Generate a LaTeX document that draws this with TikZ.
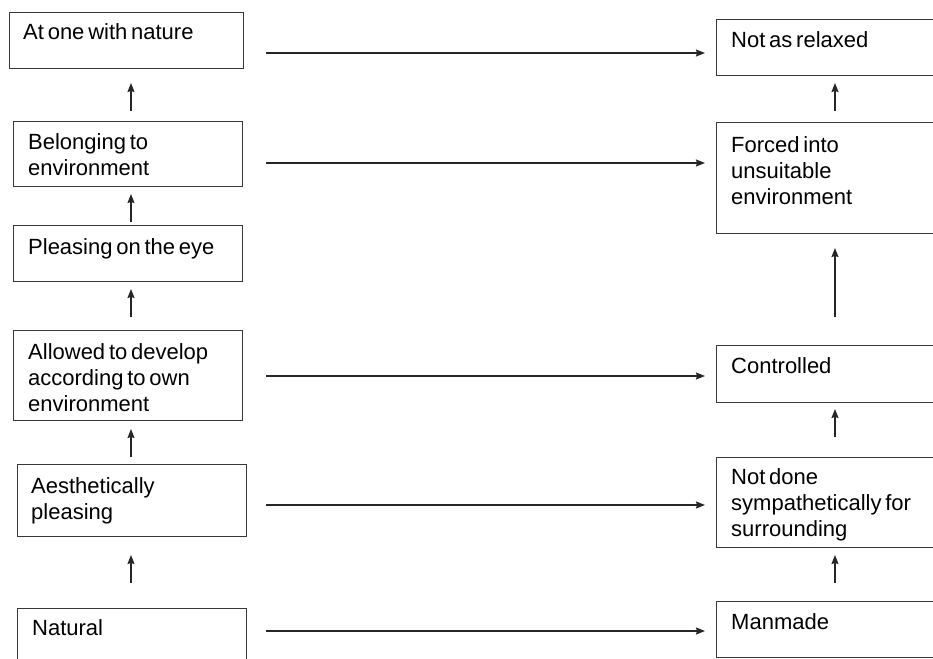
\documentclass[tikz,border=0pt]{standalone}
\usepackage{fontspec}
\setmainfont[WordSpace=0.62]{Liberation Sans}
\usetikzlibrary{arrows.meta}
\begin{document}
\begin{tikzpicture}[x=1pt,y=-1pt,
  box/.style={draw=black!78,line width=1.2pt,rectangle,inner sep=0pt,anchor=north west},
  lbl/.style={anchor=north west,inner sep=0pt,align=left,
    font=\fontsize{22pt}{26pt}\selectfont,text=black},
  arr/.style={draw=black!85,line width=1.3pt,-{Stealth[length=9pt,width=7pt,inset=1pt]}}]
\useasboundingbox (0,0) rectangle (933,658);
\clip (0,0) rectangle (933,658);
% left column boxes
\node[box,minimum width=234pt,minimum height=56pt] (L1) at (9,12) {};
\node[box,minimum width=229pt,minimum height=65pt] (L2) at (13,121) {};
\node[box,minimum width=229pt,minimum height=56pt] (L3) at (13,225) {};
\node[box,minimum width=229pt,minimum height=90pt] (L4) at (13,330) {};
\node[box,minimum width=229pt,minimum height=72pt] (L5) at (17,464) {};
\node[box,minimum width=229pt,minimum height=80pt] (L6) at (17,608) {};
% right column boxes (running past the right edge)
\node[box,minimum width=260pt,minimum height=56pt] (R1) at (716,19) {};
\node[box,minimum width=260pt,minimum height=111pt] (R2) at (716,122) {};
\node[box,minimum width=260pt,minimum height=57pt] (R3) at (716,345) {};
\node[box,minimum width=260pt,minimum height=90pt] (R4) at (716,457) {};
\node[box,minimum width=260pt,minimum height=56pt] (R5) at (716,601) {};
% labels
\node[lbl] (tL1) at ([shift={(14,11)}]L1.north west) {At one with nature};
\node[lbl] (tL2) at ([shift={(15,12)}]L2.north west) {Belonging to\\environment};
\node[lbl] (tL3) at ([shift={(15,13)}]L3.north west) {Pleasing on the eye};
\node[lbl] (tL4) at ([shift={(15,13)}]L4.north west) {Allowed to develop\\according to own\\environment};
\node[lbl] (tL5) at ([shift={(14,13)}]L5.north west) {Aesthetically\\pleasing};
\node[lbl] (tL6) at ([shift={(15,11)}]L6.north west) {Natural};
\node[lbl] (tR1) at ([shift={(15,12)}]R1.north west) {Not as relaxed};
\node[lbl] (tR2) at ([shift={(15,14)}]R2.north west) {Forced into\\unsuitable\\environment};
\node[lbl] (tR3) at ([shift={(15,12)}]R3.north west) {Controlled};
\node[lbl] (tR4) at ([shift={(15,11)}]R4.north west) {Not done\\sympathetically for\\surrounding};
\node[lbl] (tR5) at ([shift={(15,12)}]R5.north west) {Manmade};
% horizontal arrow ends
\foreach \n/\y in {1/53,2/163,3/376,4/505,5/631}{
  \coordinate (h\n a) at (266,\y);
  \coordinate (h\n b) at (705,\y);
}
% vertical arrow ends, left column
\coordinate (va1) at (131,111); \coordinate (vb1) at (131,83);
\coordinate (va2) at (131,222); \coordinate (vb2) at (131,194);
\coordinate (va3) at (131,317); \coordinate (vb3) at (131,289);
\coordinate (va4) at (131,457); \coordinate (vb4) at (131,429);
\coordinate (va5) at (131,583); \coordinate (vb5) at (131,555);
% vertical arrow ends, right column
\coordinate (wa1) at (835,111); \coordinate (wb1) at (835,83);
\coordinate (wa2) at (835,317); \coordinate (wb2) at (835,248);
\coordinate (wa3) at (835,437); \coordinate (wb3) at (835,409);
\coordinate (wa4) at (835,583); \coordinate (wb4) at (835,555);
\foreach \n in {1,...,5}{\draw[arr] (h\n a) -- (h\n b);}
\foreach \n in {1,...,5}{\draw[arr] (va\n) -- (vb\n);}
\foreach \n in {1,...,4}{\draw[arr] (wa\n) -- (wb\n);}
\end{tikzpicture}
\end{document}
